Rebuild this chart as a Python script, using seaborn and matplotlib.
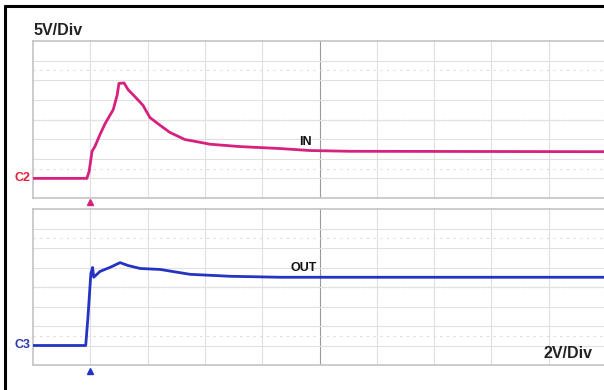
import numpy as np
import pandas as pd
import matplotlib
matplotlib.use('Agg')
import matplotlib.pyplot as plt
from matplotlib.lines import Line2D
import seaborn as sns

# time axis in scope divisions (10 div across, trigger at 1 div)
IN_T = [0.0, 0.94, 0.98, 1.03, 1.08, 1.17, 1.26, 1.40, 1.47, 1.50, 1.59,
        1.66, 1.78, 1.92, 2.04, 2.22, 2.39, 2.65, 2.91, 3.09, 3.61, 4.31,
        4.83, 5.53, 10.0]
IN_V = [0.0, 0.0, 1.8, 6.9, 8.1, 11.2, 14.0, 17.5, 21.3, 24.2, 24.3,
        22.6, 20.8, 18.6, 15.5, 13.5, 11.7, 9.9, 9.2, 8.7, 8.1, 7.6,
        7.1, 6.9, 6.8]

OUT_T = [0.0, 0.92, 0.96, 1.01, 1.04, 1.06, 1.17, 1.34, 1.52, 1.66, 1.87,
         2.22, 2.74, 3.44, 4.31, 10.0]
OUT_V = [0.0, 0.0, 3.0, 7.4, 8.0, 7.0, 7.6, 8.0, 8.5, 8.2, 7.9,
         7.8, 7.3, 7.1, 7.0, 7.0]

TRIGGER = 1.0
IN_SCALE = 5   # V/div
OUT_SCALE = 2  # V/div

PINK = '#d6217e'
BLUE = '#2433c2'


def draw_grid(ax, scale):
    ax.set_xlim(0, 10)
    ax.set_ylim(-scale, 7 * scale)
    ax.set_xticks([])
    ax.set_yticks([])
    for x in range(1, 10):
        ax.axvline(x, color='#9a9a9a' if x == 5 else '#dedede', lw=0.8, zorder=0)
    for k in range(0, 7):
        y = k * scale
        if k == 3:
            ax.axhline(y, color='#a8a8a8', lw=0.9, ls=(0, (1, 3)), zorder=0)
            ax.axhline(y, color='#e2e2e2', lw=0.8, zorder=0)
        else:
            ax.axhline(y, color='#e0e0e0', lw=0.8, zorder=0)
    for k in (0.5, 5.5):
        ax.axhline(k * scale, color='#dcdcdc', lw=0.8, ls=(0, (2, 4)), zorder=0)
    for s in ax.spines.values():
        s.set_color('#c4c4c4')
        s.set_linewidth(1.2)


sns.set_theme(style='white')
plt.rcParams['font.family'] = ['Liberation Sans', 'DejaVu Sans']

fig = plt.figure(figsize=(6.04, 3.90), dpi=100)
ax_in = fig.add_axes([33 / 604, (390 - 198) / 390, 573 / 604, 157 / 390])
ax_out = fig.add_axes([33 / 604, (390 - 365) / 390, 573 / 604, 156 / 390])

draw_grid(ax_in, IN_SCALE)
draw_grid(ax_out, OUT_SCALE)

df_in = pd.DataFrame({'t': IN_T, 'v': IN_V})
df_out = pd.DataFrame({'t': OUT_T, 'v': OUT_V})
sns.lineplot(data=df_in, x='t', y='v', ax=ax_in, color=PINK, lw=2.0, zorder=3)
sns.lineplot(data=df_out, x='t', y='v', ax=ax_out, color=BLUE, lw=2.0, zorder=3)
for ax in (ax_in, ax_out):
    ax.set_xlabel('')
    ax.set_ylabel('')

# trigger markers
ax_in.plot([TRIGGER], [-0.025], marker='^', ms=4, color=PINK,
           transform=ax_in.get_xaxis_transform(), clip_on=False)
ax_out.plot([TRIGGER], [-0.04], marker='^', ms=4, color=BLUE,
            transform=ax_out.get_xaxis_transform(), clip_on=False)

# labels
ax_in.text(0, 1.02, '5V/Div', transform=ax_in.transAxes, ha='left', va='bottom',
           fontsize=11.5, fontweight='bold', color='#222222')
ax_out.text(0.976, 0.075, '2V/Div', transform=ax_out.transAxes, ha='right',
            va='center', fontsize=11.5, fontweight='bold', color='#222222')
ax_in.text(4.76, IN_V[-1] + 0.9, 'IN', ha='center', va='bottom',
           fontsize=9, fontweight='bold', color='#111111')
ax_out.text(4.72, OUT_V[-1] + 0.35, 'OUT', ha='center', va='bottom',
            fontsize=9, fontweight='bold', color='#111111')
ax_in.text(-0.004, 0, 'C2', transform=ax_in.get_yaxis_transform(), ha='right',
           va='center', fontsize=9, fontweight='bold', color='#e3203c')
ax_out.text(-0.004, 0, 'C3', transform=ax_out.get_yaxis_transform(), ha='right',
            va='center', fontsize=9, fontweight='bold', color='#2b3aa8')

# black frame (top and left edges)
fig.add_artist(Line2D([5 / 604, 5 / 604], [0, 1 - 6 / 390], color='black', lw=2.2))
fig.add_artist(Line2D([5 / 604, 1], [1 - 6 / 390, 1 - 6 / 390], color='black', lw=2.2))

fig.savefig('out.png', dpi=100)
